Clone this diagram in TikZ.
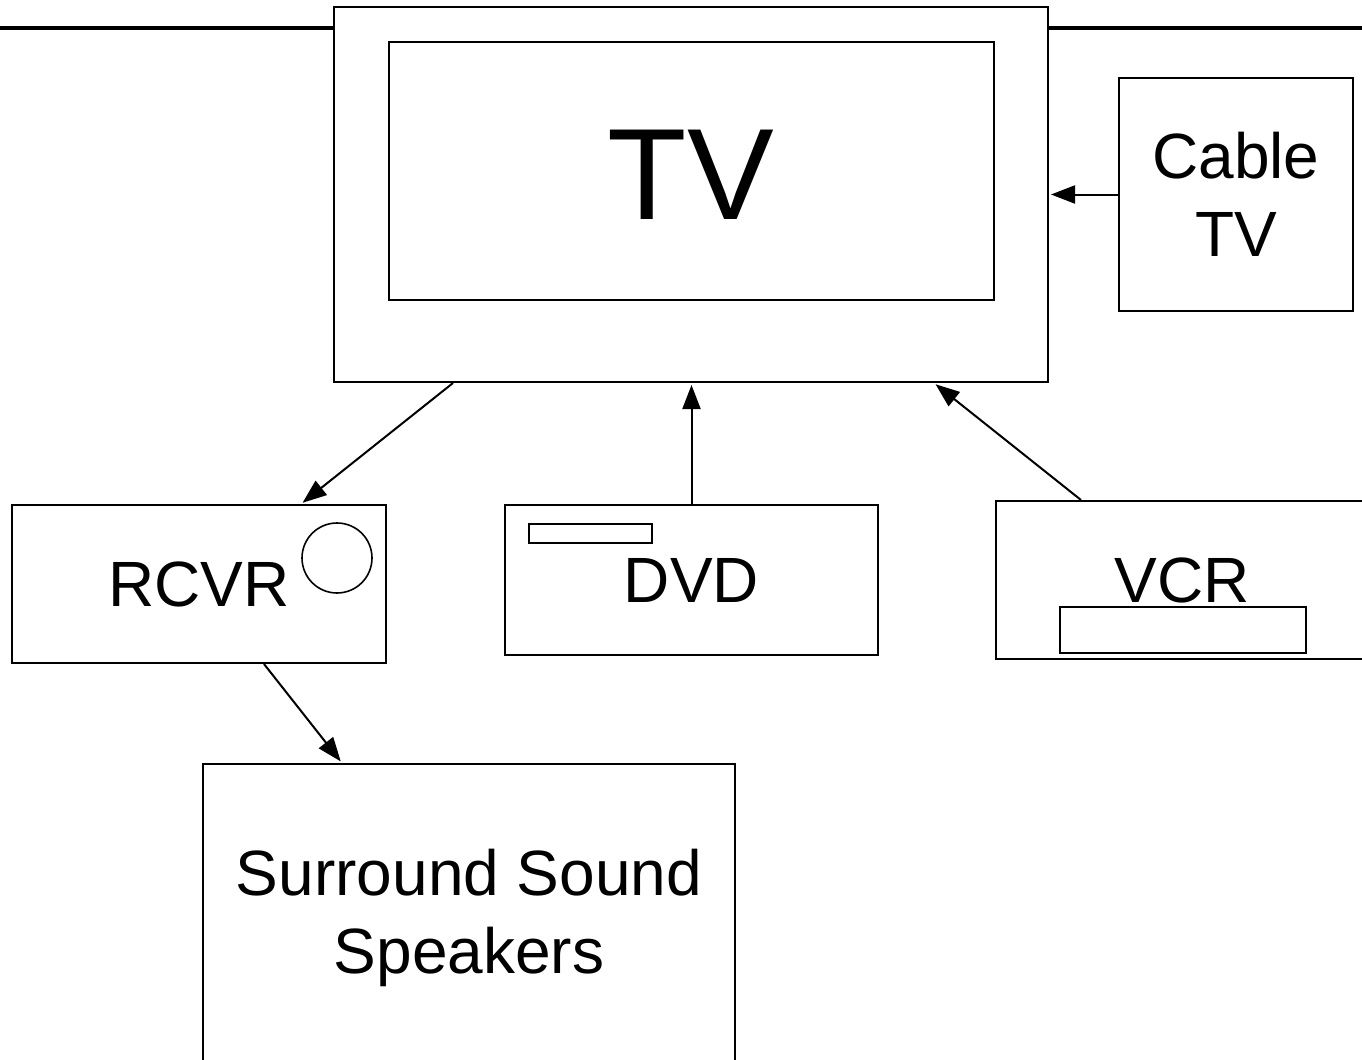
\documentclass[tikz,border=0pt]{standalone}
\usepackage{fontspec}
\setmainfont{Liberation Sans}
\usetikzlibrary{arrows.meta,positioning}
\tikzset{
    box/.style={draw, line width=1pt, fill=white, inner sep=0pt, align=center,
        font=\fontsize{32}{39}\selectfont},
    link/.style={line width=1pt, -{Triangle[length=12pt,width=9pt]}, shorten >=1pt}
}
\begin{document}
\begin{tikzpicture}[x=0.5pt, y=-0.5pt]
    \useasboundingbox (0,0) rectangle (1362,1060);
    \draw[line width=2pt] (0,28) -- (1362,28);
    \node[box, minimum width=357pt, minimum height=187.5pt] (tv) at (691,194.5) {};
    \node[box, minimum width=302.5pt, minimum height=129pt] (screen) at (691.5,171) {};
    \node[font=\fontsize{65}{78}\selectfont] (tvlabel) at (691,175) {TV};
    \node[box, minimum width=117pt, minimum height=116.5pt] (cable) at (1236,194.5) {Cable\\TV};
    \node[box, minimum width=187pt, minimum height=79pt] (rcvr) at (199,584) {RCVR};
    \node[box, minimum width=186.5pt, minimum height=75pt] (dvd) at (691.5,580) {DVD};
    \node[box, minimum width=186pt, minimum height=79pt, text width=180pt] (vcr) at (1182,580) {VCR};
    \node[box, minimum width=266pt, minimum height=154pt] (speakers) at (469,918) {Surround Sound\\Speakers};
    % front panel details
    \draw[line width=0.8pt] (337,558) circle (35);
    \draw[line width=1pt] (529,524) rectangle (652,543);
    \draw[line width=1pt] (1060,607) rectangle (1306,653);
    % signal flow
    \draw[link] ([xshift=60pt]tv.south west) -- ([xshift=145pt]rcvr.north west);
    \draw[link] (dvd.north) -- (dvd.north |- tv.south);
    \draw[link] ([xshift=43pt]vcr.north west) -- ([xshift=300.5pt]tv.south west);
    \draw[link] (cable.west) -- (cable.west -| tv.east);
    \draw[link] ([xshift=126.5pt]rcvr.south west) -- ([xshift=70pt]speakers.north west);
\end{tikzpicture}
\end{document}
